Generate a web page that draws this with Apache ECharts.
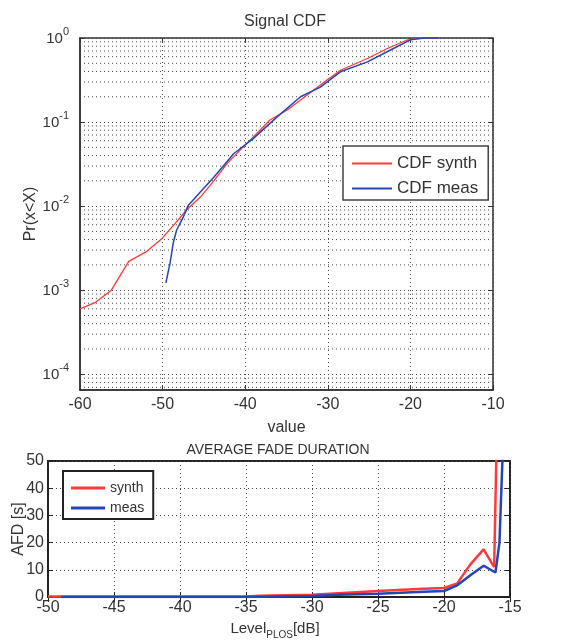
<!DOCTYPE html>
<html><head><meta charset="utf-8">
<script src="https://cdn.jsdelivr.net/npm/echarts@6/dist/echarts.min.js"></script>
<style>html,body{margin:0;padding:0;background:#fff}#c{width:563px;height:641px}</style>
</head><body><div id="c"></div>
<script>
// ---- Top panel: Signal CDF ----
const cdfSynthX = [-60, -58.2, -56.2, -54.1, -51.9, -50.1, -48.5, -47.1, -45.4, -43.8, -42.2, -40.2, -38.6, -37.0, -34.9, -32.5, -30.1, -28.4, -25.2, -22.8, -20.4, -18.7, -16.9];
const cdfSynthY = [6.0e-4, 7.1e-4, 1.0e-3, 2.2e-3, 2.9e-3, 4.1e-3, 6.2e-3, 9.0e-3, 1.29e-2, 2.0e-2, 3.2e-2, 5.1e-2, 7.3e-2, 0.106, 0.139, 0.21, 0.316, 0.416, 0.57, 0.75, 0.946, 1.0, 1.0];
const cdfMeasX = [-49.6, -49.1, -48.7, -48.3, -47.5, -46.9, -45.4, -43.8, -41.4, -39.0, -36.1, -33.3, -30.9, -28.4, -25.2, -22.4, -20.0, -18.3, -16.7];
const cdfMeasY = [1.22e-3, 2.1e-3, 3.7e-3, 5.2e-3, 7.4e-3, 1.02e-2, 1.48e-2, 2.2e-2, 4.2e-2, 6.4e-2, 0.116, 0.2, 0.26, 0.40, 0.52, 0.72, 0.95, 1.0, 1.0];
const cdfXTicks = [-60, -50, -40, -30, -20, -10];
const cdfYDecades = [1e-5, 1e-4, 1e-3, 1e-2, 1e-1];
const cdfMinorMultipliers = [2, 3, 4, 5, 6, 7, 8, 9];
const cdfYMin = 6.5e-5, cdfYMax = 1;

// ---- Bottom panel: Average fade duration ----
const afdSynthX = [-50, -45, -40, -35, -34, -30, -28, -25, -22, -20, -19, -18, -17, -16.2, -16.0];
const afdSynthY = [0.2, 0.2, 0.2, 0.2, 0.5, 0.8, 1.4, 2.2, 2.9, 3.3, 5.0, 12, 17.5, 11, 60];
const afdMeasX = [-49, -45, -40, -35, -30, -28, -25, -22, -20, -19, -18, -17, -16.1, -15.8, -15.5];
const afdMeasY = [0, 0, 0, 0, 0.4, 0.8, 1.2, 1.8, 2.2, 4.3, 8, 11.5, 9, 20, 60];
const afdXTicks = [-50, -45, -40, -35, -30, -25, -20, -15];
const afdYTicks = [0, 10, 20, 30, 40, 50];

const FONT = 'Liberation Sans, Arial, sans-serif';
const TXT = '#333';
const RED = '#ff3a3a';
const BLUE = '#2545b5';

function pairs(xs, ys) { return xs.map((x, i) => [x, ys[i]]); }

const minorVals = [];
cdfYDecades.forEach(d => cdfMinorMultipliers.forEach(m => {
  const v = d * m; if (v > cdfYMin && v < cdfYMax) minorVals.push(v);
}));

const dotted = { type: [1, 3], color: '#444', width: 1 };

const gridSeries = minorVals.map((v, i) => ({
  type: 'line', name: '_g' + i, xAxisIndex: 0, yAxisIndex: 0, silent: true, z: 1,
  data: [[cdfXTicks[0], v], [cdfXTicks[cdfXTicks.length - 1], v]],
  showSymbol: false, symbol: 'none', lineStyle: dotted, emphasis: { disabled: true }, tooltip: { show: false }
}));

const tickAxisStyle = (color) => ({ show: true, inside: true, length: 5, lineStyle: { color: color } });

const chart = echarts.init(document.getElementById('c'), null, { renderer: 'canvas' });
chart.setOption({
  animation: false,
  backgroundColor: '#fff',
  textStyle: { fontFamily: FONT },
  title: [
    { text: 'Signal CDF', left: 280, top: 9, textAlign: 'center',
      textStyle: { fontSize: 16, fontWeight: 'normal', color: TXT, fontFamily: FONT } },
    { text: 'AVERAGE FADE DURATION', left: 273, top: 438, textAlign: 'center',
      textStyle: { fontSize: 14, fontWeight: 'normal', color: TXT, fontFamily: FONT } }
  ],
  grid: [
    { left: 80, top: 38, width: 413, height: 352, show: true, borderColor: '#333', borderWidth: 1.5, backgroundColor: '#fff' },
    { left: 48, top: 461, width: 462, height: 137, show: true, borderColor: '#222', borderWidth: 2, backgroundColor: '#fff' }
  ],
  legend: [
    { data: ['CDF synth', 'CDF meas'], left: 343, top: 146, orient: 'vertical',
      icon: 'rect', itemWidth: 40, itemHeight: 2, itemGap: 8,
      padding: [9, 10, 3, 9], borderColor: '#444', borderWidth: 1.5, backgroundColor: '#fff',
      textStyle: { fontSize: 17, color: TXT, fontFamily: FONT }, selectedMode: false },
    { data: ['synth', 'meas'], left: 63, top: 471, orient: 'vertical',
      icon: 'rect', itemWidth: 34, itemHeight: 3, itemGap: 6,
      padding: [10, 9, 4, 8], borderColor: '#222', borderWidth: 2, backgroundColor: '#fff',
      textStyle: { fontSize: 14, color: TXT, fontFamily: FONT }, selectedMode: false }
  ],
  xAxis: [
    { type: 'value', gridIndex: 0, min: cdfXTicks[0], max: cdfXTicks[cdfXTicks.length - 1], interval: 10,
      name: 'value', nameLocation: 'middle', nameGap: 30,
      nameTextStyle: { fontSize: 16, color: TXT, fontFamily: FONT },
      axisLine: { show: true, lineStyle: { color: '#333', width: 1.5 } },
      axisTick: tickAxisStyle('#333'),
      axisLabel: { fontSize: 16, color: TXT, margin: 7, fontFamily: FONT },
      splitLine: { show: true, lineStyle: dotted } },
    { type: 'value', gridIndex: 0, position: 'top', min: cdfXTicks[0], max: cdfXTicks[cdfXTicks.length - 1], interval: 10,
      axisLine: { show: false }, axisTick: tickAxisStyle('#333'),
      axisLabel: { show: false }, splitLine: { show: false } },
    { type: 'value', gridIndex: 1, min: afdXTicks[0], max: afdXTicks[afdXTicks.length - 1], interval: 5,
      name: '{a|Level}{s|PLOS}{a|[dB]}', nameLocation: 'middle', nameGap: 24,
      nameTextStyle: { padding: [0, 8, 0, 0], rich: {
        a: { fontSize: 15, color: TXT, fontFamily: FONT, verticalAlign: 'top', lineHeight: 16 },
        s: { fontSize: 10, color: TXT, fontFamily: FONT, verticalAlign: 'top', lineHeight: 10, padding: [9, 0, 0, 0] } } },
      axisLine: { show: true, lineStyle: { color: '#222', width: 2 } },
      axisTick: tickAxisStyle('#222'),
      axisLabel: { fontSize: 16, color: TXT, margin: 3, fontFamily: FONT },
      splitLine: { show: true, lineStyle: dotted } },
    { type: 'value', gridIndex: 1, position: 'top', min: afdXTicks[0], max: afdXTicks[afdXTicks.length - 1], interval: 5,
      axisLine: { show: false }, axisTick: tickAxisStyle('#222'),
      axisLabel: { show: false }, splitLine: { show: false } }
  ],
  yAxis: [
    { type: 'log', logBase: 10, gridIndex: 0, min: cdfYMin, max: cdfYMax,
      name: 'Pr(x<X)', nameLocation: 'middle', nameGap: 41, nameMoveOverlap: false,
      nameTextStyle: { fontSize: 16, color: TXT, fontFamily: FONT },
      axisLine: { show: true, lineStyle: { color: '#333', width: 1.5 } },
      axisTick: tickAxisStyle('#333'),
      axisLabel: { margin: 11,
        formatter: v => { const l = Math.log10(v), e = Math.round(l);
          if (Math.abs(l - e) > 1e-6) return ''; return '{b|10}{e|' + e + '}'; },
        rich: {
          b: { fontSize: 15, color: TXT, fontFamily: FONT, verticalAlign: 'bottom', lineHeight: 17 },
          e: { fontSize: 11, color: TXT, fontFamily: FONT, verticalAlign: 'bottom', lineHeight: 11, padding: [0, 0, 9, 0] } } },
      splitLine: { show: true, lineStyle: dotted } },
    { type: 'value', gridIndex: 1, min: afdYTicks[0], max: afdYTicks[afdYTicks.length - 1], interval: 10,
      name: 'AFD [s]', nameLocation: 'middle', nameGap: 21, nameMoveOverlap: false,
      nameTextStyle: { fontSize: 16, color: TXT, fontFamily: FONT },
      axisLine: { show: true, lineStyle: { color: '#222', width: 2 } },
      axisTick: tickAxisStyle('#222'),
      axisLabel: { fontSize: 16, color: TXT, margin: 4, fontFamily: FONT },
      splitLine: { show: true, lineStyle: dotted } },
    { type: 'value', gridIndex: 1, position: 'right', min: afdYTicks[0], max: afdYTicks[afdYTicks.length - 1], interval: 10,
      axisLine: { show: false }, axisTick: tickAxisStyle('#222'),
      axisLabel: { show: false }, splitLine: { show: false } },
    { type: 'log', logBase: 10, gridIndex: 0, position: 'right', min: cdfYMin, max: cdfYMax,
      axisLine: { show: false }, axisTick: tickAxisStyle('#333'),
      axisLabel: { show: false }, splitLine: { show: false } }
  ],
  series: gridSeries.concat([
    { type: 'line', name: 'CDF synth', xAxisIndex: 0, yAxisIndex: 0, data: pairs(cdfSynthX, cdfSynthY),
      showSymbol: false, symbol: 'none', z: 3, lineStyle: { color: RED, width: 1.3 }, itemStyle: { color: RED } },
    { type: 'line', name: 'CDF meas', xAxisIndex: 0, yAxisIndex: 0, data: pairs(cdfMeasX, cdfMeasY),
      showSymbol: false, symbol: 'none', z: 4, lineStyle: { color: BLUE, width: 1.5 }, itemStyle: { color: BLUE } },
    { type: 'line', name: 'synth', xAxisIndex: 2, yAxisIndex: 1, data: pairs(afdSynthX, afdSynthY),
      showSymbol: false, symbol: 'none', z: 3, clip: true, lineStyle: { color: RED, width: 2.5 }, itemStyle: { color: RED } },
    { type: 'line', name: 'meas', xAxisIndex: 2, yAxisIndex: 1, data: pairs(afdMeasX, afdMeasY),
      showSymbol: false, symbol: 'none', z: 4, clip: true, lineStyle: { color: BLUE, width: 2.5 }, itemStyle: { color: BLUE } }
  ])
});
</script></body></html>
